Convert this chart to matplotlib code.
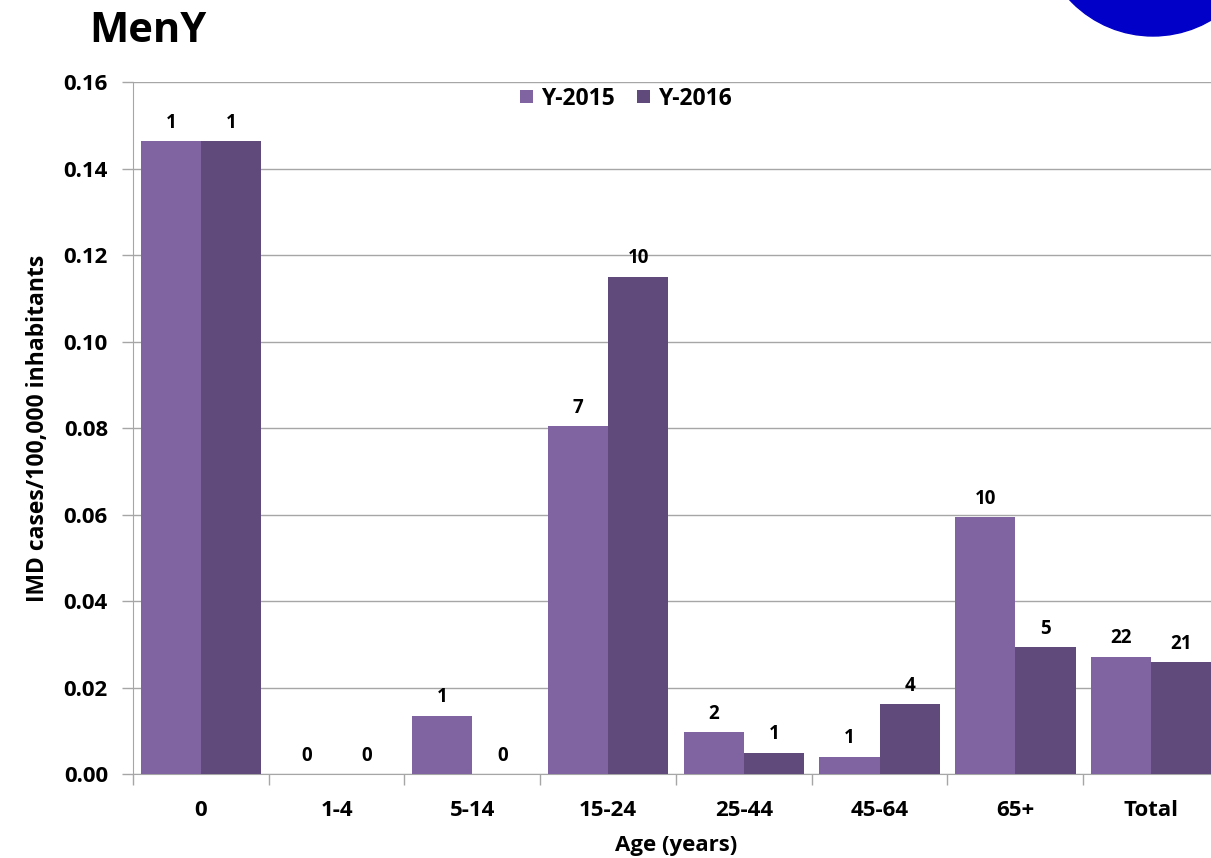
import numpy as np
import matplotlib
matplotlib.use("Agg")
import matplotlib.pyplot as plt
import matplotlib.patches as mpatches

plt.rcParams['font.family'] = ['Open Sans', 'DejaVu Sans']
plt.rcParams['font.weight'] = 'bold'

# data
categories = ["0", "1-4", "5-14", "15-24", "25-44", "45-64", "65+", "Total"]
rate_2015 = [0.1464, 0.0, 0.0135, 0.0805, 0.0097, 0.0040, 0.0594, 0.0271]
rate_2016 = [0.1464, 0.0, 0.0, 0.1150, 0.0049, 0.0162, 0.0294, 0.0259]
cases_2015 = ["1", "0", "1", "7", "2", "1", "10", "22"]
cases_2016 = ["1", "0", "0", "10", "1", "4", "5", "21"]
series_names = ["Y-2015", "Y-2016"]
y_ticks = [0.00, 0.02, 0.04, 0.06, 0.08, 0.10, 0.12, 0.14, 0.16]

col_2015 = "#8064A2"
col_2016 = "#604A7B"
grid_col = "#A6A6A6"

fig = plt.figure(figsize=(12.11, 8.58), dpi=100)
ax = fig.add_axes([0.1098, 0.0979, 0.8968, 0.8065])

x = np.arange(len(categories))
w = 0.443
b1 = ax.bar(x - w / 2, rate_2015, w, color=col_2015, label=series_names[0], zorder=3)
b2 = ax.bar(x + w / 2, rate_2016, w, color=col_2016, label=series_names[1], zorder=3)

# case counts above bars
for bars, labels in [(b1, cases_2015), (b2, cases_2016)]:
    for bar, lab in zip(bars, labels):
        ax.annotate(lab, (bar.get_x() + bar.get_width() / 2, bar.get_height()),
                    xytext=(0, 6), textcoords="offset points", ha="center", va="bottom",
                    fontsize=13.5, fontweight="bold")

ax.set_xlim(-0.5, len(categories) - 0.5)
ax.set_ylim(0, 0.16)
ax.set_yticks(y_ticks)
ax.set_yticklabels(["%.2f" % v for v in y_ticks], fontsize=16, fontweight="bold")
ax.yaxis.grid(True, color=grid_col, linewidth=1, zorder=0)

ax.set_xticks(x)
ax.set_xticklabels(categories, fontsize=16, fontweight="bold")
ax.set_xticks(np.arange(len(categories) + 1) - 0.5, minor=True)
ax.tick_params(axis="x", which="major", length=0, pad=19)
ax.tick_params(axis="x", which="minor", length=8, color=grid_col, width=1)
ax.tick_params(axis="y", length=8, color=grid_col, width=1, pad=10)

for s in ["top", "right"]:
    ax.spines[s].set_visible(False)
ax.spines["left"].set_color(grid_col)
ax.spines["bottom"].set_color(grid_col)

ax.set_xlabel("Age (years)", fontsize=16, fontweight="bold", labelpad=10)
ax.set_ylabel("IMD cases/100,000 inhabitants", fontsize=16.5, fontweight="bold", labelpad=10)

ax.legend(loc="upper center", bbox_to_anchor=(0.454, 1.01), ncol=2, frameon=False,
          fontsize=16.5, handlelength=0.55, handleheight=0.55, columnspacing=1.0,
          handletextpad=0.35, borderaxespad=0.1)

fig.text(0.074, 0.963, "MenY", fontsize=30, fontweight="bold", va="center", ha="left")

# partial logo in top right corner
logo = mpatches.Circle((11.53, 9.36), 1.14, transform=fig.dpi_scale_trans,
                       color="#0000C8", zorder=5)
fig.patches.append(logo)

fig.savefig("out.png", dpi=100)
